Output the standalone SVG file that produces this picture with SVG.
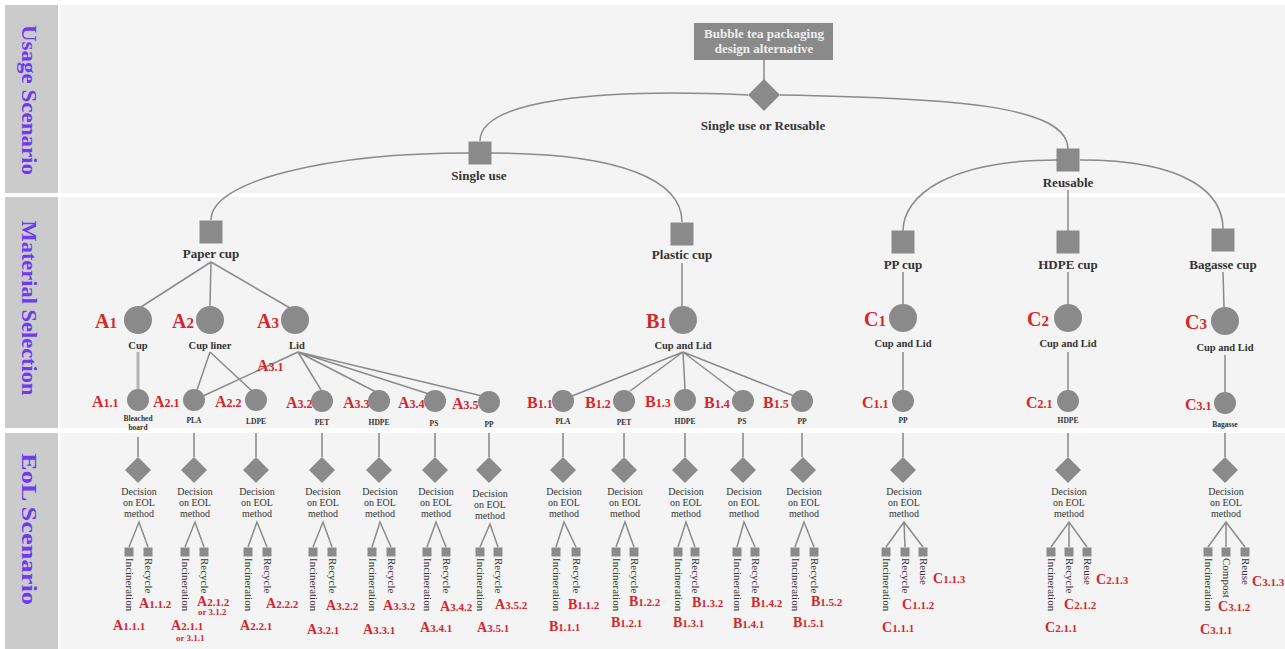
<svg xmlns="http://www.w3.org/2000/svg" width="1285" height="649" viewBox="0 0 1285 649">
<style>
.bg{fill:#f4f4f4}
.band{fill:#cbcbcb}
.bl{font-family:"Liberation Serif",serif;font-size:20px;font-weight:bold;fill:#6b3cf0;text-anchor:middle}
.nd{fill:#8a8a8a}
.ln{stroke:#8a8a8a;stroke-width:1.5;fill:none}
.vl{stroke:#a0a0a0;stroke-width:2;fill:none}
.t{font-family:"Liberation Serif",serif;fill:#333;text-anchor:middle}
.h1{font-size:13px;font-weight:bold}
.h2{font-size:10.5px;font-weight:bold}
.h3{font-size:7.5px;font-weight:bold}
.dc{font-size:10px}
.rt{font-family:"Liberation Serif",serif;font-size:11px;fill:#333}
.r{font-family:"Liberation Serif",serif;font-weight:bold;fill:#d7262b}
.a2{font-size:20px}.d2{font-size:15px}
.a3{font-size:16px}.d3{font-size:12px}
.a4{font-size:14px}.d4{font-size:11px}
.or{font-size:9px}
</style>
<defs>
<path id="dm" class="nd" d="M0,-13L13,0L0,13L-13,0Z"/>
<rect id="sq" class="nd" x="-4.5" y="-4.5" width="9" height="9"/>
<rect id="bs" class="nd" x="-11.5" y="-11.5" width="23" height="23"/>
</defs>
<rect width="1285" height="649" fill="#ffffff"/>
<g id="bands">
<rect class="bg" x="60" y="5" width="1225" height="188"/>
<rect class="bg" x="60" y="197" width="1225" height="231"/>
<rect class="bg" x="60" y="433" width="1225" height="216"/>
<rect class="band" x="5" y="5" width="53" height="188"/>
<rect class="band" x="5" y="197" width="53" height="231"/>
<rect class="band" x="5" y="433" width="53" height="216"/>
<text class="bl" transform="translate(22,100) rotate(90)" textLength="150" lengthAdjust="spacingAndGlyphs">Usage Scenario</text>
<text class="bl" transform="translate(22,308) rotate(90)" textLength="175" lengthAdjust="spacingAndGlyphs">Material Selection</text>
<text class="bl" transform="translate(22,529) rotate(90)" textLength="152" lengthAdjust="spacingAndGlyphs">EoL Scenario</text>
</g>

<g id="connectors">
<path class="ln" d="M764,60V80"/>
<path class="ln" d="M748,95C600,88 480,100 480,141"/>
<path class="ln" d="M780,95C950,98 1068,105 1068,149"/>
<path class="ln" d="M469,153C330,153 211,180 211,220"/>
<path class="ln" d="M491,153C620,153 682,180 682,222"/>
<path class="ln" d="M1057,160C950,160 903,195 903,231"/>
<path class="ln" d="M1080,160C1190,160 1223,195 1223,229"/>
<path class="ln" d="M1068,190V231"/>
<path class="ln" d="M211,262L141,307M211,262L210,306M211,262L290,308"/>
<path class="ln" d="M682,263V306"/>
<path class="ln" d="M903,272V304"/>
<path class="ln" d="M1068,272V304"/>
<path class="ln" d="M1223,272L1224,307"/>
<path d="M138,352V389" stroke="#b4b4b4" stroke-width="3" fill="none"/>
<path class="ln" d="M210,352L197,390M210,352L252,391"/>
<path class="ln" d="M298,352L203,396M298,352L321,390M298,352L376,392M298,352L429,394M298,352L482,396"/>
<path class="ln" d="M683,352L572,396M683,352L630,391M683,352L685,389M683,352L737,393M683,352L794,396"/>
<path class="ln" d="M903,352V390M1068,352V390M1225,355V392"/>
</g>

<g id="root">
<rect class="nd" x="694" y="23" width="139" height="37"/>
<text class="t h1" fill="#eeeeee" style="fill:#eeeeee"><tspan x="764" y="38">Bubble tea packaging</tspan><tspan x="764" y="53">design alternative</tspan></text>
</g>
<g id="choice">
<path class="nd" d="M764,79L780,95L764,111L748,95Z"/>
<text class="t h1" x="763" y="130">Single use or Reusable</text>
</g>
<g id="single-use"><use href="#bs" x="480" y="153"/><text class="t h1" x="479" y="180">Single use</text></g>
<g id="reusable"><use href="#bs" x="1068" y="160"/><text class="t h1" x="1068" y="187">Reusable</text></g>
<g id="paper-cup"><use href="#bs" x="211" y="232"/><text class="t h1" x="211" y="258">Paper cup</text></g>
<g id="plastic-cup"><use href="#bs" x="682" y="234"/><text class="t h1" x="682" y="259">Plastic cup</text></g>
<g id="pp-cup"><use href="#bs" x="903" y="242"/><text class="t h1" x="903" y="269">PP cup</text></g>
<g id="hdpe-cup"><use href="#bs" x="1068" y="242"/><text class="t h1" x="1068" y="269">HDPE cup</text></g>
<g id="bagasse-cup"><use href="#bs" x="1223" y="240"/><text class="t h1" x="1223" y="269">Bagasse cup</text></g>

<g id="A1"><circle class="nd" cx="138" cy="320" r="14"/><text class="r" x="95" y="328"><tspan class="a2">A</tspan><tspan class="d2">1</tspan></text><text class="t h2" x="138" y="349">Cup</text></g>
<g id="A2"><circle class="nd" cx="210" cy="320" r="14"/><text class="r" x="172" y="328"><tspan class="a2">A</tspan><tspan class="d2">2</tspan></text><text class="t h2" x="210" y="349">Cup liner</text></g>
<g id="A3"><circle class="nd" cx="295" cy="320" r="14"/><text class="r" x="257" y="328"><tspan class="a2">A</tspan><tspan class="d2">3</tspan></text><text class="t h2" x="297" y="349">Lid</text></g>
<g id="B1"><circle class="nd" cx="683" cy="320" r="14"/><text class="r" x="646" y="328"><tspan class="a2">B</tspan><tspan class="d2">1</tspan></text><text class="t h2" x="683" y="349">Cup and Lid</text></g>
<g id="C1"><circle class="nd" cx="903" cy="318" r="14"/><text class="r" x="864" y="326"><tspan class="a2">C</tspan><tspan class="d2">1</tspan></text><text class="t h2" x="903" y="347">Cup and Lid</text></g>
<g id="C2"><circle class="nd" cx="1068" cy="318" r="14"/><text class="r" x="1027" y="326"><tspan class="a2">C</tspan><tspan class="d2">2</tspan></text><text class="t h2" x="1068" y="347">Cup and Lid</text></g>
<g id="C3"><circle class="nd" cx="1225" cy="321" r="14"/><text class="r" x="1185" y="329"><tspan class="a2">C</tspan><tspan class="d2">3</tspan></text><text class="t h2" x="1225" y="351">Cup and Lid</text></g>

<g id="A3-1-label"><text class="r" x="257" y="371"><tspan class="a3">A</tspan><tspan class="d3">3.1</tspan></text></g>
<g id="A1-1"><text class="r" x="92" y="407"><tspan class="a3">A</tspan><tspan class="d3">1.1</tspan></text><circle class="nd" cx="138" cy="400" r="11"/><text class="t h3"><tspan x="138" y="421">Bleached</tspan><tspan x="138" y="430">board</tspan></text></g>
<g id="A2-1"><text class="r" x="153" y="407"><tspan class="a3">A</tspan><tspan class="d3">2.1</tspan></text><circle class="nd" cx="194" cy="400" r="11"/><text class="t h3" x="194" y="423">PLA</text></g>
<g id="A2-2"><text class="r" x="215" y="407"><tspan class="a3">A</tspan><tspan class="d3">2.2</tspan></text><circle class="nd" cx="256" cy="400" r="11"/><text class="t h3" x="256" y="424">LDPE</text></g>
<g id="A3-2"><text class="r" x="286" y="408"><tspan class="a3">A</tspan><tspan class="d3">3.2</tspan></text><circle class="nd" cx="322" cy="401" r="11"/><text class="t h3" x="322" y="425">PET</text></g>
<g id="A3-3"><text class="r" x="343" y="408"><tspan class="a3">A</tspan><tspan class="d3">3.3</tspan></text><circle class="nd" cx="379" cy="401" r="11"/><text class="t h3" x="379" y="425">HDPE</text></g>
<g id="A3-4"><text class="r" x="398" y="408"><tspan class="a3">A</tspan><tspan class="d3">3.4</tspan></text><circle class="nd" cx="435" cy="401" r="11"/><text class="t h3" x="434" y="426">PS</text></g>
<g id="A3-5"><text class="r" x="452" y="409"><tspan class="a3">A</tspan><tspan class="d3">3.5</tspan></text><circle class="nd" cx="489" cy="402" r="11"/><text class="t h3" x="489" y="427">PP</text></g>
<g id="B1-1"><text class="r" x="527" y="408"><tspan class="a3">B</tspan><tspan class="d3">1.1</tspan></text><circle class="nd" cx="563" cy="401" r="11"/><text class="t h3" x="563" y="424">PLA</text></g>
<g id="B1-2"><text class="r" x="585" y="408"><tspan class="a3">B</tspan><tspan class="d3">1.2</tspan></text><circle class="nd" cx="624" cy="401" r="11"/><text class="t h3" x="624" y="425">PET</text></g>
<g id="B1-3"><text class="r" x="645" y="407"><tspan class="a3">B</tspan><tspan class="d3">1.3</tspan></text><circle class="nd" cx="685" cy="400" r="11"/><text class="t h3" x="685" y="424">HDPE</text></g>
<g id="B1-4"><text class="r" x="704" y="408"><tspan class="a3">B</tspan><tspan class="d3">1.4</tspan></text><circle class="nd" cx="743" cy="401" r="11"/><text class="t h3" x="742" y="424">PS</text></g>
<g id="B1-5"><text class="r" x="763" y="408"><tspan class="a3">B</tspan><tspan class="d3">1.5</tspan></text><circle class="nd" cx="802" cy="401" r="11"/><text class="t h3" x="802" y="424">PP</text></g>
<g id="C1-1"><text class="r" x="862" y="408"><tspan class="a3">C</tspan><tspan class="d3">1.1</tspan></text><circle class="nd" cx="903" cy="401" r="11"/><text class="t h3" x="903" y="423">PP</text></g>
<g id="C2-1"><text class="r" x="1026" y="408"><tspan class="a3">C</tspan><tspan class="d3">2.1</tspan></text><circle class="nd" cx="1068" cy="401" r="11"/><text class="t h3" x="1068" y="423">HDPE</text></g>
<g id="C3-1"><text class="r" x="1185" y="410"><tspan class="a3">C</tspan><tspan class="d3">3.1</tspan></text><circle class="nd" cx="1225" cy="403" r="11"/><text class="t h3" x="1225" y="427">Bagasse</text></g>

<g id="eol-A1-1">
<path class="vl" d="M138,437V457"/><use href="#dm" x="138" y="470"/>
<text class="t dc"><tspan x="139" y="495">Decision</tspan><tspan x="139" y="506">on EOL</tspan><tspan x="139" y="517">method</tspan></text>
<path class="ln" d="M129,547L139,522L148,547"/><use href="#sq" x="129" y="552"/><use href="#sq" x="148" y="552"/>
<text class="rt" transform="translate(125.5,558) rotate(90)">Incineration</text><text class="rt" transform="translate(144.5,558) rotate(90)">Recycle</text>
<text class="r" x="139" y="608"><tspan class="a4">A</tspan><tspan class="d4">1.1.2</tspan></text>
<text class="r" x="113" y="630"><tspan class="a4">A</tspan><tspan class="d4">1.1.1</tspan></text>
</g>
<g id="eol-A2-1">
<path class="vl" d="M194,433V457"/><use href="#dm" x="194" y="470"/>
<text class="t dc"><tspan x="195" y="495">Decision</tspan><tspan x="195" y="506">on EOL</tspan><tspan x="195" y="517">method</tspan></text>
<path class="ln" d="M185,547L195,522L204,547"/><use href="#sq" x="185" y="552"/><use href="#sq" x="204" y="552"/>
<text class="rt" transform="translate(181.5,558) rotate(90)">Incineration</text><text class="rt" transform="translate(200.5,558) rotate(90)">Recycle</text>
<text class="r" x="197" y="606"><tspan class="a4">A</tspan><tspan class="d4">2.1.2</tspan></text>
<text class="r or" x="198" y="615">or 3.1.2</text>
<text class="r" x="171" y="630"><tspan class="a4">A</tspan><tspan class="d4">2.1.1</tspan></text>
<text class="r or" x="176" y="641">or 3.1.1</text>
</g>
<g id="eol-A2-2">
<path class="vl" d="M256,433V457"/><use href="#dm" x="256" y="470"/>
<text class="t dc"><tspan x="257" y="495">Decision</tspan><tspan x="257" y="506">on EOL</tspan><tspan x="257" y="517">method</tspan></text>
<path class="ln" d="M248,547L257,522L267,547"/><use href="#sq" x="248" y="552"/><use href="#sq" x="267" y="552"/>
<text class="rt" transform="translate(244.5,558) rotate(90)">Incineration</text><text class="rt" transform="translate(263.5,558) rotate(90)">Recycle</text>
<text class="r" x="266" y="608"><tspan class="a4">A</tspan><tspan class="d4">2.2.2</tspan></text>
<text class="r" x="240" y="630"><tspan class="a4">A</tspan><tspan class="d4">2.2.1</tspan></text>
</g>
<g id="eol-A3-2">
<path class="vl" d="M322,433V457"/><use href="#dm" x="322" y="470"/>
<text class="t dc"><tspan x="323" y="495">Decision</tspan><tspan x="323" y="506">on EOL</tspan><tspan x="323" y="517">method</tspan></text>
<path class="ln" d="M313,547L323,522L332,547"/><use href="#sq" x="313" y="552"/><use href="#sq" x="332" y="552"/>
<text class="rt" transform="translate(309.5,558) rotate(90)">Incineration</text><text class="rt" transform="translate(328.5,558) rotate(90)">Recycle</text>
<text class="r" x="326" y="610"><tspan class="a4">A</tspan><tspan class="d4">3.2.2</tspan></text>
<text class="r" x="307" y="634"><tspan class="a4">A</tspan><tspan class="d4">3.2.1</tspan></text>
</g>
<g id="eol-A3-3">
<path class="vl" d="M379,433V457"/><use href="#dm" x="379" y="470"/>
<text class="t dc"><tspan x="380" y="495">Decision</tspan><tspan x="380" y="506">on EOL</tspan><tspan x="380" y="517">method</tspan></text>
<path class="ln" d="M372,547L380,522L391,547"/><use href="#sq" x="372" y="552"/><use href="#sq" x="391" y="552"/>
<text class="rt" transform="translate(368.5,558) rotate(90)">Incineration</text><text class="rt" transform="translate(387.5,558) rotate(90)">Recycle</text>
<text class="r" x="383" y="610"><tspan class="a4">A</tspan><tspan class="d4">3.3.2</tspan></text>
<text class="r" x="363" y="634"><tspan class="a4">A</tspan><tspan class="d4">3.3.1</tspan></text>
</g>
<g id="eol-A3-4">
<path class="vl" d="M435,433V457"/><use href="#dm" x="435" y="470"/>
<text class="t dc"><tspan x="436" y="495">Decision</tspan><tspan x="436" y="506">on EOL</tspan><tspan x="436" y="517">method</tspan></text>
<path class="ln" d="M427,547L436,522L446,547"/><use href="#sq" x="427" y="552"/><use href="#sq" x="446" y="552"/>
<text class="rt" transform="translate(423.5,558) rotate(90)">Incineration</text><text class="rt" transform="translate(442.5,558) rotate(90)">Recycle</text>
<text class="r" x="440" y="611"><tspan class="a4">A</tspan><tspan class="d4">3.4.2</tspan></text>
<text class="r" x="420" y="632"><tspan class="a4">A</tspan><tspan class="d4">3.4.1</tspan></text>
</g>
<g id="eol-A3-5">
<path class="vl" d="M489,433V457"/><use href="#dm" x="489" y="470"/>
<text class="t dc"><tspan x="490" y="497">Decision</tspan><tspan x="490" y="508">on EOL</tspan><tspan x="490" y="519">method</tspan></text>
<path class="ln" d="M480,547L490,524L498,547"/><use href="#sq" x="480" y="552"/><use href="#sq" x="498" y="552"/>
<text class="rt" transform="translate(476.5,558) rotate(90)">Incineration</text><text class="rt" transform="translate(494.5,558) rotate(90)">Recycle</text>
<text class="r" x="495" y="609"><tspan class="a4">A</tspan><tspan class="d4">3.5.2</tspan></text>
<text class="r" x="477" y="632"><tspan class="a4">A</tspan><tspan class="d4">3.5.1</tspan></text>
</g>
<g id="eol-B1-1">
<path class="vl" d="M563,433V457"/><use href="#dm" x="563" y="470"/>
<text class="t dc"><tspan x="564" y="495">Decision</tspan><tspan x="564" y="506">on EOL</tspan><tspan x="564" y="517">method</tspan></text>
<path class="ln" d="M556,547L564,522L576,547"/><use href="#sq" x="556" y="552"/><use href="#sq" x="576" y="552"/>
<text class="rt" transform="translate(552.5,558) rotate(90)">Incineration</text><text class="rt" transform="translate(572.5,558) rotate(90)">Recycle</text>
<text class="r" x="568" y="609"><tspan class="a4">B</tspan><tspan class="d4">1.1.2</tspan></text>
<text class="r" x="549" y="631"><tspan class="a4">B</tspan><tspan class="d4">1.1.1</tspan></text>
</g>
<g id="eol-B1-2">
<path class="vl" d="M624,433V457"/><use href="#dm" x="624" y="470"/>
<text class="t dc"><tspan x="625" y="495">Decision</tspan><tspan x="625" y="506">on EOL</tspan><tspan x="625" y="517">method</tspan></text>
<path class="ln" d="M616,547L625,522L634,547"/><use href="#sq" x="616" y="552"/><use href="#sq" x="634" y="552"/>
<text class="rt" transform="translate(612.5,558) rotate(90)">Incineration</text><text class="rt" transform="translate(630.5,558) rotate(90)">Recycle</text>
<text class="r" x="629" y="606"><tspan class="a4">B</tspan><tspan class="d4">1.2.2</tspan></text>
<text class="r" x="611" y="627"><tspan class="a4">B</tspan><tspan class="d4">1.2.1</tspan></text>
</g>
<g id="eol-B1-3">
<path class="vl" d="M685,433V457"/><use href="#dm" x="685" y="470"/>
<text class="t dc"><tspan x="686" y="495">Decision</tspan><tspan x="686" y="506">on EOL</tspan><tspan x="686" y="517">method</tspan></text>
<path class="ln" d="M678,547L686,522L695,547"/><use href="#sq" x="678" y="552"/><use href="#sq" x="695" y="552"/>
<text class="rt" transform="translate(674.5,558) rotate(90)">Incineration</text><text class="rt" transform="translate(691.5,558) rotate(90)">Recycle</text>
<text class="r" x="692" y="607"><tspan class="a4">B</tspan><tspan class="d4">1.3.2</tspan></text>
<text class="r" x="673" y="627"><tspan class="a4">B</tspan><tspan class="d4">1.3.1</tspan></text>
</g>
<g id="eol-B1-4">
<path class="vl" d="M743,433V457"/><use href="#dm" x="743" y="470"/>
<text class="t dc"><tspan x="744" y="495">Decision</tspan><tspan x="744" y="506">on EOL</tspan><tspan x="744" y="517">method</tspan></text>
<path class="ln" d="M737,547L744,522L755,547"/><use href="#sq" x="737" y="552"/><use href="#sq" x="755" y="552"/>
<text class="rt" transform="translate(733.5,558) rotate(90)">Incineration</text><text class="rt" transform="translate(751.5,558) rotate(90)">Recycle</text>
<text class="r" x="751" y="607"><tspan class="a4">B</tspan><tspan class="d4">1.4.2</tspan></text>
<text class="r" x="733" y="628"><tspan class="a4">B</tspan><tspan class="d4">1.4.1</tspan></text>
</g>
<g id="eol-B1-5">
<path class="vl" d="M802,433V457"/><use href="#dm" x="803" y="470"/>
<text class="t dc"><tspan x="804" y="495">Decision</tspan><tspan x="804" y="506">on EOL</tspan><tspan x="804" y="517">method</tspan></text>
<path class="ln" d="M795,547L804,522L814,547"/><use href="#sq" x="795" y="552"/><use href="#sq" x="814" y="552"/>
<text class="rt" transform="translate(791.5,558) rotate(90)">Incineration</text><text class="rt" transform="translate(810.5,558) rotate(90)">Recycle</text>
<text class="r" x="811" y="606"><tspan class="a4">B</tspan><tspan class="d4">1.5.2</tspan></text>
<text class="r" x="793" y="627"><tspan class="a4">B</tspan><tspan class="d4">1.5.1</tspan></text>
</g>
<g id="eol-C1-1">
<path class="vl" d="M903,433V457"/><use href="#dm" x="903" y="470"/>
<text class="t dc"><tspan x="904" y="495">Decision</tspan><tspan x="904" y="506">on EOL</tspan><tspan x="904" y="517">method</tspan></text>
<path class="ln" d="M886,547L904,522L923,547M904,522L905,547"/><use href="#sq" x="886" y="552"/><use href="#sq" x="905" y="552"/><use href="#sq" x="923" y="552"/>
<text class="rt" transform="translate(882.5,558) rotate(90)">Incineration</text><text class="rt" transform="translate(901.5,558) rotate(90)">Recycle</text><text class="rt" transform="translate(919.5,558) rotate(90)">Reuse</text>
<text class="r" x="933" y="583"><tspan class="a4">C</tspan><tspan class="d4">1.1.3</tspan></text>
<text class="r" x="902" y="609"><tspan class="a4">C</tspan><tspan class="d4">1.1.2</tspan></text>
<text class="r" x="882" y="632"><tspan class="a4">C</tspan><tspan class="d4">1.1.1</tspan></text>
</g>
<g id="eol-C2-1">
<path class="vl" d="M1068,433V457"/><use href="#dm" x="1068" y="470"/>
<text class="t dc"><tspan x="1069" y="495">Decision</tspan><tspan x="1069" y="506">on EOL</tspan><tspan x="1069" y="517">method</tspan></text>
<path class="ln" d="M1051,547L1069,522L1087,547M1069,522L1069,547"/><use href="#sq" x="1051" y="552"/><use href="#sq" x="1069" y="552"/><use href="#sq" x="1087" y="552"/>
<text class="rt" transform="translate(1047.5,558) rotate(90)">Incineration</text><text class="rt" transform="translate(1065.5,558) rotate(90)">Recycle</text><text class="rt" transform="translate(1083.5,558) rotate(90)">Reuse</text>
<text class="r" x="1096" y="584"><tspan class="a4">C</tspan><tspan class="d4">2.1.3</tspan></text>
<text class="r" x="1064" y="609"><tspan class="a4">C</tspan><tspan class="d4">2.1.2</tspan></text>
<text class="r" x="1045" y="632"><tspan class="a4">C</tspan><tspan class="d4">2.1.1</tspan></text>
</g>
<g id="eol-C3-1">
<path class="vl" d="M1225,433V457"/><use href="#dm" x="1225" y="470"/>
<text class="t dc"><tspan x="1226" y="495">Decision</tspan><tspan x="1226" y="506">on EOL</tspan><tspan x="1226" y="517">method</tspan></text>
<path class="ln" d="M1208,547L1226,522L1245,547M1226,522L1226,547"/><use href="#sq" x="1208" y="552"/><use href="#sq" x="1226" y="552"/><use href="#sq" x="1245" y="552"/>
<text class="rt" transform="translate(1204.5,558) rotate(90)">Incineration</text><text class="rt" transform="translate(1222.5,558) rotate(90)">Compost</text><text class="rt" transform="translate(1241.5,558) rotate(90)">Reuse</text>
<text class="r" x="1252" y="586"><tspan class="a4">C</tspan><tspan class="d4">3.1.3</tspan></text>
<text class="r" x="1218" y="611"><tspan class="a4">C</tspan><tspan class="d4">3.1.2</tspan></text>
<text class="r" x="1200" y="634"><tspan class="a4">C</tspan><tspan class="d4">3.1.1</tspan></text>
</g>
</svg>
